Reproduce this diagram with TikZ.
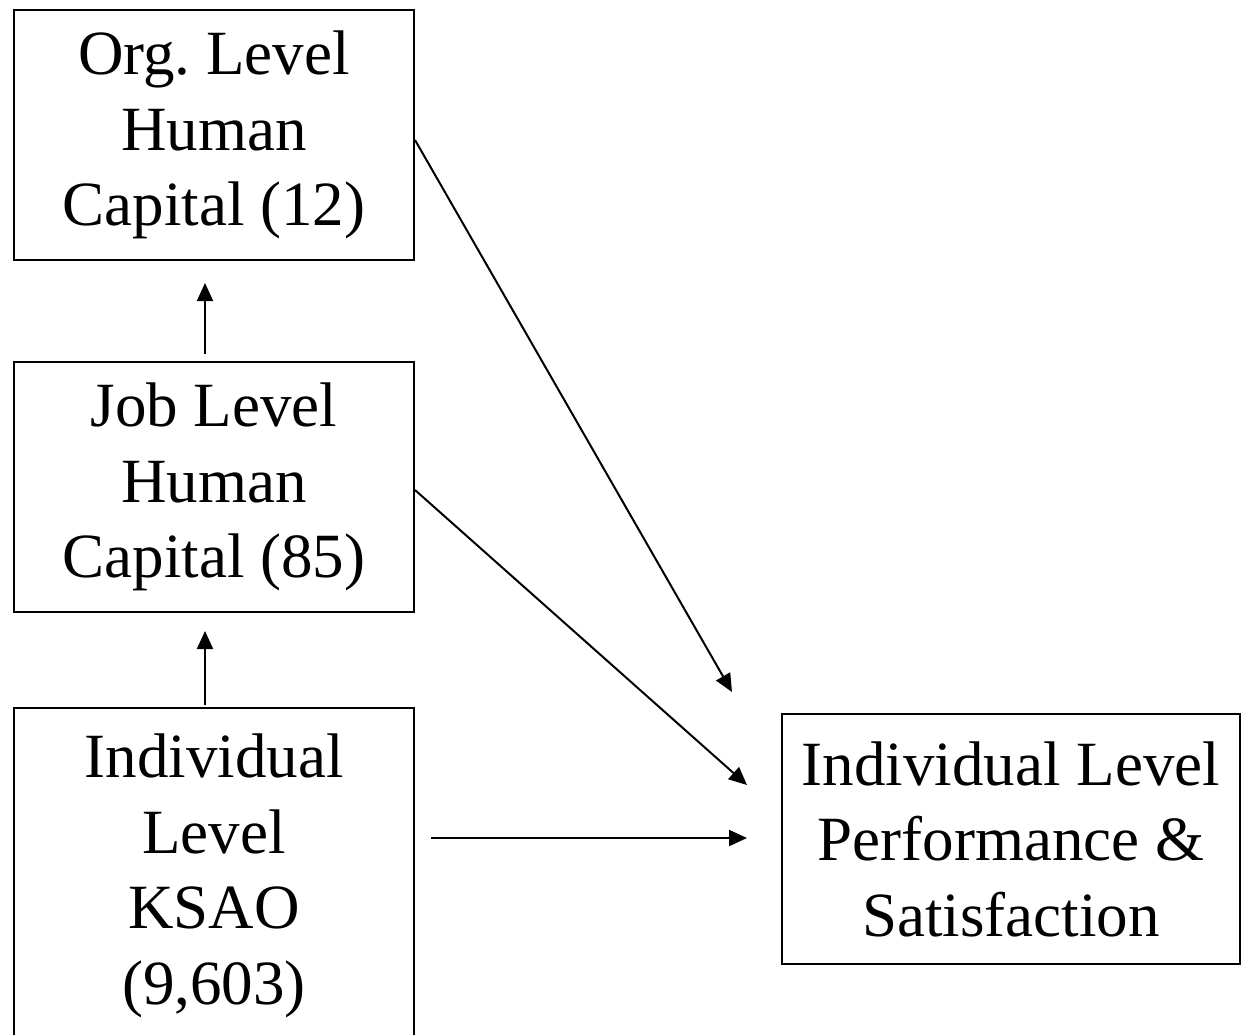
\documentclass[tikz,border=0pt]{standalone}
\usepackage{fontspec}
\setmainfont{Liberation Serif}
\usetikzlibrary{arrows.meta,calc}

\tikzset{
  levelbox/.style={draw, line width=2pt, align=center, inner sep=0pt,
    font=\fontsize{63}{75.5}\selectfont},
  arr/.style={line width=2pt, -{Triangle[length=18pt,width=16pt]}}
}

\begin{document}
\begin{tikzpicture}[x=1pt,y=-1pt]
        \useasboundingbox (0,0) rectangle (1247,1034);

        % Boxes
        \node[levelbox, minimum width=400pt, minimum height=250pt] (org) at (214,135)
            {Org.\ Level\\Human\\Capital (12)};
        \node[levelbox, minimum width=400pt, minimum height=250pt] (job) at (214,487)
            {Job Level\\Human\\Capital (85)};
        \node[levelbox, minimum width=400pt, minimum height=336pt] (indiv) at (214,876)
            {Individual\\Level\\KSAO\\(9,603)};
        \node[levelbox, minimum width=458pt, minimum height=250pt] (perf) at (1011,839)
            {Individual Level\\Performance \&\\Satisfaction};

        % Arrows up
        \draw[arr] ($(job.north)+(-9,-7)$) -- ($(org.south)+(-9,22)$);
        \draw[arr] ($(indiv.north)+(-9,-2)$) -- ($(job.south)+(-9,18)$);

        % Arrows to outcome
        \draw[arr] ($(org.east)+(0,5)$) -- ($(perf.west)+(-49,-147)$);
        \draw[arr] ($(job.east)+(0,3)$) -- ($(perf.west)+(-34,-54)$);
        \draw[arr] ($(indiv.east)+(16,-38)$) -- ($(perf.west)+(-34,-1)$);
\end{tikzpicture}
\end{document}
